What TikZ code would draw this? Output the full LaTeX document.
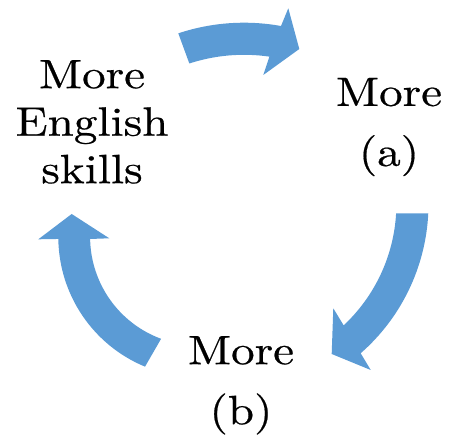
\documentclass[tikz,border=0pt]{standalone}
\usepackage{fontspec}
\setmainfont{lmroman10-regular.otf}[FakeStretch=1.15,FakeBold=0.5]
\usetikzlibrary{calc}
\definecolor{cycleblue}{RGB}{91,155,213}

\begin{document}
\begin{tikzpicture}[x=1pt,y=1pt,
	cyclearrow/.style={fill=cycleblue},
	cyclelabel/.style={font=\fontsize{41}{60}\selectfont, align=center, inner sep=0pt, anchor=north}]
			%%%%% START %%%%%
			
			\useasboundingbox (0,0) rectangle (451,437);
			
			% top arrow
			\coordinate (ctop) at (244,205.7);
			\fill[cyclearrow] ($(ctop)+(108.36:208.6pt)$) arc[start angle=108.36, end angle=79.78, radius=208.6pt]
				-- (288.3,428.7) -- (299.3,388) -- (263.3,362)
				-- ($(ctop)+(81.73:176.5pt)$) arc[start angle=81.73, end angle=108.04, radius=176.5pt] -- cycle;
			
			% right arrow
			\coordinate (cright) at (229.9,233.2);
			\fill[cyclearrow] ($(cright)+(-2.74:198.6pt)$) arc[start angle=-2.74, end angle=-48.82, radius=198.6pt]
				-- (370.7,67) -- (331.7,83) -- (333.3,128.7)
				-- ($(cright)+(-46.9:166.5pt)$) arc[start angle=-46.9, end angle=-3.26, radius=166.5pt] -- cycle;
			
			% left arrow
			\coordinate (cleft) at (198.6,200);
			\fill[cyclearrow] ($(cleft)+(247.55:140.3pt)$) arc[start angle=247.55, end angle=180.8, radius=140.3pt]
				-- (38.3,197.7) -- (71.7,223) -- (109.3,198.7)
				-- ($(cleft)+(181.05:108.5pt)$) arc[start angle=181.05, end angle=249.77, radius=108.5pt] -- cycle;
			
			% labels
			\node[cyclelabel, font=\fontsize{41}{47.5}\selectfont] (english) at (92,377) {More\\English\\skills};
			\node[cyclelabel] (morea) at (389,359.3) {More\\(a)};
			\node[cyclelabel] (moreb) at (241,101) {More\\(b)};
			
			%%%%% END %%%%%
\end{tikzpicture}
\end{document}
